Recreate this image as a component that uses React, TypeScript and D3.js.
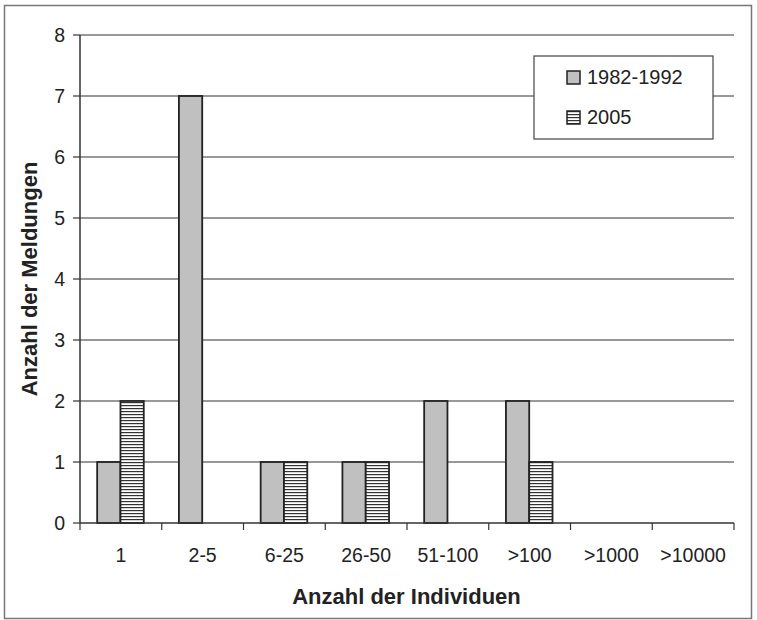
import React from "react";
import * as d3 from "d3";

const categories = ["1", "2-5", "6-25", "26-50", "51-100", ">100", ">1000", ">10000"];
const seriesNames = ["1982-1992", "2005"];
const values1982 = [1, 7, 1, 1, 2, 2, 0, 0];
const values2005 = [2, 0, 1, 1, 0, 1, 0, 0];
const yTicks = [0, 1, 2, 3, 4, 5, 6, 7, 8];

export default function App() {
  const W = 757, H = 620;
  const left = 80, right = 734, top = 35, bottom = 523;
  const x0 = d3.scaleBand<string>().domain(categories).range([left, right]).padding(0);
  const bw = x0.bandwidth();
  const x1 = d3.scaleBand<string>().domain(seriesNames).range([bw * 0.21, bw * 0.78]).padding(0);
  const y = d3.scaleLinear().domain([0, 8]).range([bottom, top]);
  const series = [values1982, values2005];
  const font = "Arial, 'Liberation Sans', sans-serif";

  return (
    <svg width={W} height={H} style={{ position: "absolute", left: 0, top: 0 }} fontFamily={font}>
      <defs>
        <pattern id="stripes" patternUnits="userSpaceOnUse" width="6" height="3">
          <rect width="6" height="3" fill="#fff" />
          <rect width="6" height="1.2" fill="#333" />
        </pattern>
      </defs>
      <rect x={0} y={0} width={W} height={H} fill="#fff" />
      <rect x={4.5} y={5.5} width={747} height={613} fill="#fff" stroke="#777" strokeWidth={1.5} />
      {yTicks.map((t) => (
        <g key={t}>
          {t > 0 && <line x1={left} x2={right} y1={y(t)} y2={y(t)} stroke="#333" strokeWidth={1} />}
          <line x1={left - 7} x2={left} y1={y(t)} y2={y(t)} stroke="#333" strokeWidth={1.2} />
          <text x={left - 15} y={y(t)} dy="0.36em" textAnchor="end" fontSize={19.5} fill="#222">{t}</text>
        </g>
      ))}
      {categories.map((c, i) => (
        <g key={c}>
          {series.map((s, j) => {
            const v = s[i];
            if (!v) return null;
            const bx = (x0(c) as number) + (x1(seriesNames[j]) as number);
            return (
              <rect key={j} x={bx} y={y(v)} width={x1.bandwidth()} height={y(0) - y(v)}
                fill={j === 0 ? "#c0c0c0" : "url(#stripes)"} stroke="#222" strokeWidth={1.8} />
            );
          })}
          <text x={(x0(c) as number) + bw / 2} y={562} textAnchor="middle" fontSize={19.5} fill="#222">{c}</text>
        </g>
      ))}
      {d3.range(categories.length + 1).map((i) => (
        <line key={i} x1={left + i * bw} x2={left + i * bw} y1={bottom} y2={bottom + 7} stroke="#333" strokeWidth={1.2} />
      ))}
      <line x1={left} x2={left} y1={top} y2={bottom} stroke="#333" strokeWidth={1.5} />
      <line x1={left} x2={right} y1={bottom} y2={bottom} stroke="#333" strokeWidth={1.5} />
      <text x={406.5} y={604} textAnchor="middle" fontSize={22} fontWeight="bold" fill="#222">Anzahl der Individuen</text>
      <text transform={`translate(37,${(top + bottom) / 2}) rotate(-90)`} textAnchor="middle" fontSize={22} fontWeight="bold" fill="#222">Anzahl der Meldungen</text>
      <rect x={534} y={56} width={179} height={83} fill="#fff" stroke="#444" strokeWidth={1.2} />
      {seriesNames.map((n, j) => (
        <g key={n}>
          <rect x={567} y={71 + j * 40} width={13} height={13} fill={j === 0 ? "#c0c0c0" : "url(#stripes)"} stroke="#222" strokeWidth={1.5} />
          <text x={587} y={84 + j * 40} fontSize={20} fill="#222">{n}</text>
        </g>
      ))}
    </svg>
  );
}
